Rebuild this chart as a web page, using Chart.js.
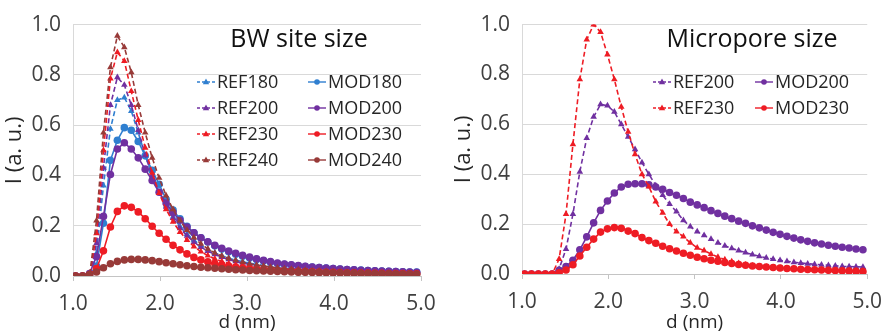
<!DOCTYPE html>
<html>
<head>
<meta charset="utf-8">
<script src="https://cdn.jsdelivr.net/npm/chart.js@4.4.1/dist/chart.umd.min.js"></script>
<style>
    html, body { margin: 0; padding: 0; background: #fff; }
    .panel { position: absolute; top: 0; width: 446px; height: 335px; }
    #left-panel { left: 0; }
    #right-panel { left: 446px; }
</style>
</head>
<body>
<div class="panel" id="left-panel"><canvas id="bwChart" width="446" height="335"></canvas></div>
<div class="panel" id="right-panel"><canvas id="mpChart" width="446" height="335"></canvas></div>
<script>
// pore diameter grid, nm
const dValues = [1.03, 1.11, 1.19, 1.27, 1.35, 1.43, 1.51, 1.59, 1.67, 1.75,
    1.83, 1.91, 1.99, 2.07, 2.15, 2.23, 2.31, 2.39, 2.47, 2.55,
    2.63, 2.71, 2.79, 2.87, 2.95, 3.03, 3.11, 3.19, 3.27, 3.35,
    3.43, 3.51, 3.59, 3.67, 3.75, 3.83, 3.91, 3.99, 4.07, 4.15,
    4.23, 4.31, 4.39, 4.47, 4.55, 4.63, 4.71, 4.79, 4.87, 4.95];

const xTicks = [1, 2, 3, 4, 5];
const yTicks = [0, 0.2, 0.4, 0.6, 0.8, 1.0];

// BW site size series
const ref180 = [0, 0, 0, 0.09, 0.36, 0.585, 0.70, 0.71, 0.656, 0.57,
    0.48, 0.40, 0.335, 0.28, 0.235, 0.197, 0.167, 0.142, 0.122, 0.105,
    0.092, 0.081, 0.071, 0.063, 0.057, 0.051, 0.046, 0.042, 0.038, 0.035,
    0.032, 0.030, 0.028, 0.026, 0.024, 0.023, 0.021, 0.020, 0.019, 0.018,
    0.017, 0.016, 0.015, 0.015, 0.014, 0.013, 0.013, 0.012, 0.012, 0.011];
const mod180 = [0, 0, 0.005, 0.04, 0.21, 0.46, 0.54, 0.59, 0.58, 0.535,
    0.478, 0.42, 0.365, 0.305, 0.262, 0.228, 0.198, 0.172, 0.152, 0.135,
    0.120, 0.107, 0.096, 0.087, 0.079, 0.072, 0.066, 0.060, 0.055, 0.050,
    0.047, 0.044, 0.041, 0.038, 0.036, 0.034, 0.032, 0.030, 0.028, 0.026,
    0.025, 0.024, 0.022, 0.021, 0.020, 0.019, 0.018, 0.017, 0.016, 0.016];
const ref200 = [0, 0, 0, 0.13, 0.43, 0.68, 0.79, 0.76, 0.68, 0.58,
    0.48, 0.40, 0.33, 0.275, 0.23, 0.19, 0.16, 0.135, 0.115, 0.099,
    0.086, 0.075, 0.066, 0.058, 0.052, 0.047, 0.042, 0.038, 0.035, 0.032,
    0.029, 0.027, 0.025, 0.023, 0.022, 0.020, 0.019, 0.018, 0.017, 0.016,
    0.015, 0.014, 0.014, 0.013, 0.012, 0.012, 0.011, 0.011, 0.010, 0.010];
const mod200 = [0, 0, 0.01, 0.077, 0.237, 0.404, 0.505, 0.53, 0.505, 0.47,
    0.425, 0.38, 0.333, 0.29, 0.252, 0.222, 0.195, 0.172, 0.152, 0.136,
    0.122, 0.110, 0.099, 0.090, 0.082, 0.075, 0.068, 0.062, 0.057, 0.052,
    0.048, 0.045, 0.042, 0.039, 0.036, 0.034, 0.032, 0.030, 0.028, 0.026,
    0.025, 0.023, 0.022, 0.021, 0.020, 0.019, 0.018, 0.017, 0.016, 0.015];
const ref230 = [0, 0, 0, 0.17, 0.50, 0.785, 0.89, 0.855, 0.735, 0.62,
    0.51, 0.41, 0.33, 0.265, 0.215, 0.175, 0.143, 0.117, 0.097, 0.081,
    0.068, 0.058, 0.050, 0.044, 0.039, 0.034, 0.031, 0.028, 0.025, 0.023,
    0.021, 0.019, 0.018, 0.016, 0.015, 0.014, 0.013, 0.012, 0.012, 0.011,
    0.010, 0.010, 0.009, 0.009, 0.008, 0.008, 0.008, 0.007, 0.007, 0.007];
const mod230 = [0, 0, 0.005, 0.03, 0.10, 0.195, 0.257, 0.279, 0.273, 0.255,
    0.228, 0.198, 0.17, 0.146, 0.122, 0.104, 0.088, 0.074, 0.064, 0.056,
    0.050, 0.045, 0.040, 0.036, 0.033, 0.030, 0.028, 0.026, 0.024, 0.022,
    0.021, 0.020, 0.019, 0.018, 0.017, 0.016, 0.015, 0.015, 0.014, 0.013,
    0.013, 0.012, 0.012, 0.011, 0.011, 0.010, 0.010, 0.010, 0.009, 0.009];
const ref240 = [0, 0, 0, 0.22, 0.57, 0.83, 0.955, 0.91, 0.81, 0.68,
    0.57, 0.47, 0.39, 0.32, 0.265, 0.22, 0.183, 0.153, 0.128, 0.108,
    0.092, 0.080, 0.070, 0.062, 0.055, 0.049, 0.044, 0.040, 0.036, 0.033,
    0.030, 0.028, 0.026, 0.024, 0.022, 0.021, 0.019, 0.018, 0.017, 0.016,
    0.015, 0.014, 0.013, 0.013, 0.012, 0.011, 0.011, 0.010, 0.010, 0.009];
const mod240 = [0, 0, 0.006, 0.016, 0.033, 0.049, 0.058, 0.064, 0.066, 0.066,
    0.064, 0.061, 0.057, 0.053, 0.049, 0.045, 0.041, 0.038, 0.035, 0.033,
    0.031, 0.029, 0.027, 0.025, 0.024, 0.022, 0.021, 0.020, 0.019, 0.018,
    0.017, 0.016, 0.015, 0.015, 0.014, 0.013, 0.013, 0.012, 0.012, 0.011,
    0.011, 0.010, 0.010, 0.009, 0.009, 0.009, 0.008, 0.008, 0.008, 0.007];

// Micropore size series
const mpRef200 = [0, 0, 0, 0, 0, 0.02, 0.10, 0.24, 0.41, 0.545,
    0.63, 0.68, 0.675, 0.65, 0.60, 0.55, 0.50, 0.447, 0.40, 0.355,
    0.316, 0.28, 0.25, 0.215, 0.19, 0.17, 0.155, 0.14, 0.125, 0.113,
    0.103, 0.094, 0.086, 0.078, 0.071, 0.065, 0.060, 0.055, 0.051, 0.047,
    0.044, 0.041, 0.039, 0.037, 0.035, 0.033, 0.031, 0.030, 0.029, 0.028];
const mpMod200 = [0, 0, 0, 0, 0, 0.015, 0.03, 0.055, 0.097, 0.149,
    0.205, 0.255, 0.293, 0.325, 0.349, 0.36, 0.362, 0.362, 0.358, 0.349,
    0.34, 0.327, 0.316, 0.303, 0.288, 0.277, 0.266, 0.254, 0.243, 0.232,
    0.222, 0.212, 0.203, 0.193, 0.185, 0.176, 0.167, 0.159, 0.151, 0.144,
    0.137, 0.131, 0.125, 0.120, 0.115, 0.111, 0.107, 0.104, 0.100, 0.097];
const mpRef230 = [0, 0, 0, 0, 0, 0.06, 0.24, 0.52, 0.78, 0.94,
    1.0, 0.97, 0.88, 0.78, 0.67, 0.57, 0.48, 0.40, 0.35, 0.29,
    0.245, 0.20, 0.17, 0.15, 0.125, 0.105, 0.094, 0.08, 0.068, 0.058,
    0.05, 0.043, 0.037, 0.033, 0.030, 0.028, 0.026, 0.024, 0.022, 0.021,
    0.020, 0.019, 0.018, 0.017, 0.016, 0.015, 0.015, 0.014, 0.014, 0.013];
const mpMod230 = [0, 0, 0, 0, 0, 0.005, 0.016, 0.037, 0.072, 0.107,
    0.14, 0.168, 0.181, 0.186, 0.183, 0.172, 0.162, 0.146, 0.134, 0.123,
    0.111, 0.101, 0.092, 0.083, 0.075, 0.067, 0.061, 0.055, 0.051, 0.046,
    0.042, 0.038, 0.035, 0.032, 0.030, 0.028, 0.026, 0.024, 0.022, 0.021,
    0.019, 0.018, 0.017, 0.016, 0.015, 0.014, 0.013, 0.012, 0.011, 0.010];

const COLORS = {
    blue: '#2f7fd0',
    purple: '#7030a0',
    red: '#ee1c24',
    brown: '#983a38'
};

Chart.defaults.font.family = '"Open Sans", "Noto Sans", sans-serif';

function toPoints(values) {
    return dValues.map((d, i) => ({ x: d, y: values[i] }));
}

function refSeries(label, values, color, idx) {
    return {
        label: label,
        data: toPoints(values),
        borderColor: color,
        backgroundColor: color,
        borderWidth: 1.6,
        borderDash: [5, 3],
        pointStyle: 'triangle',
        pointRadius: 3.8,
        pointBorderWidth: 0,
        order: -idx
    };
}

function modSeries(label, values, color, idx) {
    return {
        label: label,
        data: toPoints(values),
        borderColor: color,
        backgroundColor: color,
        borderWidth: 1.6,
        pointStyle: 'circle',
        pointRadius: 3.8,
        pointBorderWidth: 0,
        order: -idx
    };
}

// title + two-column legend drawn inside the plot area
const insetLegend = {
    id: 'insetLegend',
    afterDraw(chart, args, opts) {
        const ctx = chart.ctx;
        ctx.save();
        ctx.fillStyle = '#111';
        ctx.font = '25px "Open Sans"';
        ctx.textAlign = 'center';
        ctx.textBaseline = 'middle';
        ctx.fillText(opts.title, opts.titleX, opts.titleY);

        ctx.font = '18px "Open Sans"';
        ctx.textAlign = 'left';
        chart.data.datasets.forEach((ds, i) => {
            const x = opts.colX[i % 2];
            const y = opts.rowY[Math.floor(i / 2)];
            ctx.strokeStyle = ds.borderColor;
            ctx.fillStyle = ds.borderColor;
            ctx.lineWidth = 1.4;
            ctx.setLineDash(ds.borderDash ? [3, 2] : []);
            ctx.beginPath();
            ctx.moveTo(x, y);
            ctx.lineTo(x + 18, y);
            ctx.stroke();
            ctx.setLineDash([]);
            const cx = x + 9;
            ctx.beginPath();
            if (ds.pointStyle === 'triangle') {
                ctx.moveTo(cx, y - 3.5);
                ctx.lineTo(cx + 3.2, y + 2.3);
                ctx.lineTo(cx - 3.2, y + 2.3);
                ctx.closePath();
            } else {
                ctx.arc(cx, y, 2.8, 0, Math.PI * 2);
            }
            ctx.fill();
            ctx.fillStyle = '#262626';
            ctx.fillText(ds.label, x + 20, y + 1);
        });
        ctx.restore();
    }
};

function makeOptions(cfg) {
    return {
        responsive: false,
        animation: false,
        layout: { padding: { left: 0, right: cfg.padRight, top: cfg.padTop, bottom: 0 } },
        plugins: {
            legend: { display: false },
            tooltip: { enabled: false },
            insetLegend: cfg.legend
        },
        scales: {
            x: {
                type: 'linear',
                min: 1,
                max: 5,
                afterBuildTicks: (scale) => { scale.ticks = xTicks.map(v => ({ value: v })); },
                afterFit: (scale) => { scale.height = cfg.xHeight; },
                ticks: {
                    color: '#404040',
                    font: { size: 21 },
                    padding: 10,
                    callback: (v) => Number(v).toFixed(1)
                },
                grid: { drawOnChartArea: false, drawTicks: true, tickLength: 5, color: '#c4c4c4' },
                border: { color: '#c4c4c4', width: 1 },
                title: {
                    display: true,
                    text: 'd (nm)',
                    color: '#262626',
                    font: { size: 19 },
                    padding: { top: 0, bottom: 1 }
                }
            },
            y: {
                min: 0,
                max: 1,
                afterBuildTicks: (scale) => { scale.ticks = yTicks.map(v => ({ value: v })); },
                afterFit: (scale) => { scale.width = cfg.yWidth; },
                ticks: {
                    color: '#404040',
                    font: { size: 21 },
                    padding: 12,
                    callback: (v) => Number(v).toFixed(1)
                },
                grid: { color: '#d9d9d9', drawTicks: false },
                border: { color: '#d9d9d9', width: 1 },
                title: {
                    display: true,
                    text: 'I (a. u.)',
                    color: '#262626',
                    font: { size: 22 },
                    padding: { top: cfg.yTitlePad, bottom: 0 }
                }
            }
        }
    };
}

new Chart(document.getElementById('bwChart'), {
    type: 'line',
    data: {
        datasets: [
            refSeries('REF180', ref180, COLORS.blue, 0),
            modSeries('MOD180', mod180, COLORS.blue, 1),
            refSeries('REF200', ref200, COLORS.purple, 2),
            modSeries('MOD200', mod200, COLORS.purple, 3),
            refSeries('REF230', ref230, COLORS.red, 4),
            modSeries('MOD230', mod230, COLORS.red, 5),
            refSeries('REF240', ref240, COLORS.brown, 6),
            modSeries('MOD240', mod240, COLORS.brown, 7)
        ]
    },
    options: makeOptions({
        padRight: 25, padTop: 17, xHeight: 59, yWidth: 73, yTitlePad: 2,
        legend: { title: 'BW site size', titleX: 299, titleY: 40, colX: [197, 308], rowY: [82, 108, 134, 160] }
    }),
    plugins: [insetLegend]
});

new Chart(document.getElementById('mpChart'), {
    type: 'line',
    data: {
        datasets: [
            refSeries('REF200', mpRef200, COLORS.purple, 0),
            modSeries('MOD200', mpMod200, COLORS.purple, 1),
            refSeries('REF230', mpRef230, COLORS.red, 2),
            modSeries('MOD230', mpMod230, COLORS.red, 3)
        ]
    },
    options: makeOptions({
        padRight: 21, padTop: 19, xHeight: 61, yWidth: 76, yTitlePad: 5,
        legend: { title: 'Micropore size', titleX: 306, titleY: 40, colX: [207, 309], rowY: [82, 108] }
    }),
    plugins: [insetLegend]
});
</script>
</body>
</html>
